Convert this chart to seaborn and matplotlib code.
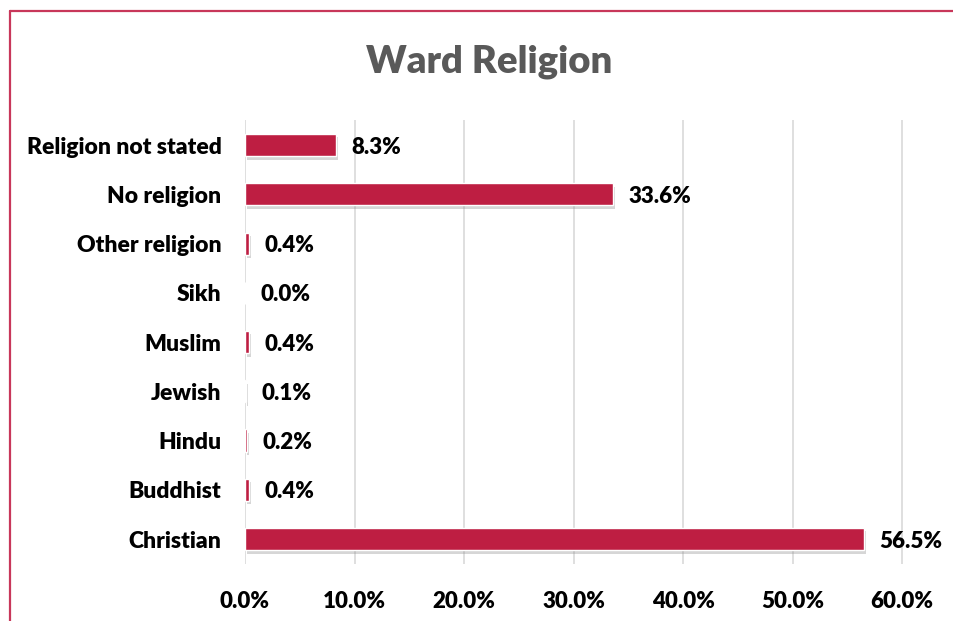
import matplotlib.pyplot as plt
import matplotlib.patheffects as pe
from matplotlib.lines import Line2D
from matplotlib.ticker import FuncFormatter
import seaborn as sns
import pandas as pd

# Chart data (top to bottom as shown)
religions = ['Religion not stated', 'No religion', 'Other religion', 'Sikh', 'Muslim',
             'Jewish', 'Hindu', 'Buddhist', 'Christian']
percent = [8.3, 33.6, 0.4, 0.0, 0.4, 0.1, 0.2, 0.4, 56.5]
x_ticks = [0, 10, 20, 30, 40, 50, 60]

df = pd.DataFrame({'religion': religions, 'percent': percent})

sns.set_theme(style='white')
plt.rcParams['font.family'] = ['Lato', 'DejaVu Sans']

fig = plt.figure(figsize=(9.54, 6.21), dpi=100)
ax = fig.add_axes([0.2568, 0.0923, 0.6945, 0.7137])

sns.barplot(data=df, x='percent', y='religion', orient='h', color='#BE1E42',
            width=0.45, saturation=1, ax=ax, zorder=3)

# soft drop shadow under the bars
for bar in ax.patches:
    bar.set_path_effects([pe.SimplePatchShadow(offset=(1.5, -2.5), shadow_rgbFace='#8c8c8c', alpha=0.35),
                          pe.Normal()])

# value labels
for i, v in enumerate(percent):
    ax.text(v + 1.4, i + 0.04, f'{v:.1f}%', va='center', ha='left', fontsize=16,
            fontweight='heavy', color='black')

ax.set_xlim(0, 60.5)
ax.set_xticks(x_ticks)
ax.xaxis.set_major_formatter(FuncFormatter(lambda x, _: f'{x:.1f}%'))
ax.grid(axis='x', color='#D9D9D9', linewidth=1.2, zorder=0)
ax.grid(axis='y', visible=False)
ax.set_axisbelow(True)
sns.despine(ax=ax, left=True, bottom=True)
ax.tick_params(axis='x', length=0, pad=20, labelsize=16)
ax.tick_params(axis='y', length=0, pad=17, labelsize=16.5)
for lbl in ax.get_xticklabels() + ax.get_yticklabels():
    lbl.set_fontweight('heavy')
    lbl.set_color('black')
ax.set_xlabel('')
ax.set_ylabel('')

fig.text(489 / 954, 0.9, 'Ward Religion', ha='center', va='center', fontsize=27.5,
         fontweight='heavy', color='#595959')

# chart frame: only top and left edges are inside the image
frame_x = 10.5 / 954
frame_y = 1 - 10.5 / 621
fig.add_artist(Line2D([frame_x, 1.05], [frame_y, frame_y], transform=fig.transFigure,
                      color='#C8375A', linewidth=1.6))
fig.add_artist(Line2D([frame_x, frame_x], [-0.05, frame_y], transform=fig.transFigure,
                      color='#C8375A', linewidth=1.6))

fig.savefig('out.png', dpi=100)
